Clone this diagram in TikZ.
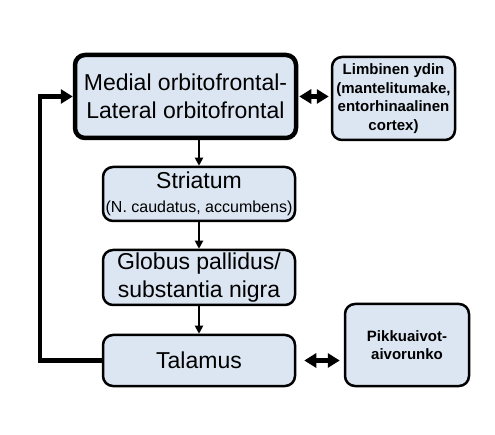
\documentclass[tikz,border=0pt]{standalone}
\usepackage{fontspec}
\setmainfont{Liberation Sans}
\usetikzlibrary{arrows.meta, positioning, calc}
\definecolor{boxblue}{HTML}{DCE6F2}
\definecolor{inkblack}{HTML}{000000}

\begin{document}
\begin{tikzpicture}[x=1pt, y=-1pt,
    box/.style={draw=inkblack, fill=boxblue, rounded corners=10pt, line width=2.5pt,
      inner sep=0pt, align=center, font=\fontsize{23}{28}\selectfont},
    smallbox/.style={box, font=\fontsize{15}{18.5}\selectfont\bfseries},
    flow/.style={-{Triangle[length=8pt, width=8pt]}, line width=1.8pt, inkblack},
    dbl/.style={{Triangle[length=12pt, width=14pt]}-{Triangle[length=12pt, width=14pt]}, line width=4.5pt, inkblack}]
  \useasboundingbox (0,0) rectangle (495,435);

  % Otsalohko
  \node[box, line width=4.5pt, minimum width=221pt, minimum height=83pt] (orbito) at (185.5,96.5)
    {Medial orbitofrontal-\\Lateral orbitofrontal};
  \node[smallbox, minimum width=123pt, minimum height=83pt] (limb) at (393.5,98.5)
    {Limbinen ydin\\(mantelitumake,\\entorhinaalinen\\cortex)};

  % Tyvitumakkeet ja talamus
  \node[box, minimum width=192pt, minimum height=54pt] (striatum) at (199,194)
    {Striatum\\[-4pt]{\fontsize{16}{18}\selectfont(N. caudatus, accumbens)}};
  \node[box, minimum width=192pt, minimum height=55pt] (globus) at (199,277.5)
    {Globus pallidus/\\substantia nigra};
  \node[box, minimum width=192pt, minimum height=51pt] (talamus) at (199,360.5) {Talamus};
  \node[smallbox, minimum width=124pt, minimum height=82pt] (pikku) at (407,345)
    {Pikkuaivot-\\aivorunko};

  % Nuolet alaspäin
  \draw[flow] (striatum.north |- orbito.south) -- (striatum.north);
  \draw[flow] (striatum.south) -- (globus.north);
  \draw[flow] (globus.south) -- (talamus.north);

  % Takaisinkytkentä
  \draw[-{Triangle[length=12pt, width=14pt]}, line width=4.5pt, inkblack]
    (talamus.west) -- ++(-62,0) |- (orbito.west);

  % Kaksisuuntaiset nuolet
  \draw[dbl] ([xshift=1pt]orbito.east) -- ([xshift=-2pt]limb.west |- orbito.east);
  \draw[dbl] ([xshift=8pt]talamus.east) -- ([xshift=-4pt]pikku.west |- talamus.east);
\end{tikzpicture}
\end{document}
